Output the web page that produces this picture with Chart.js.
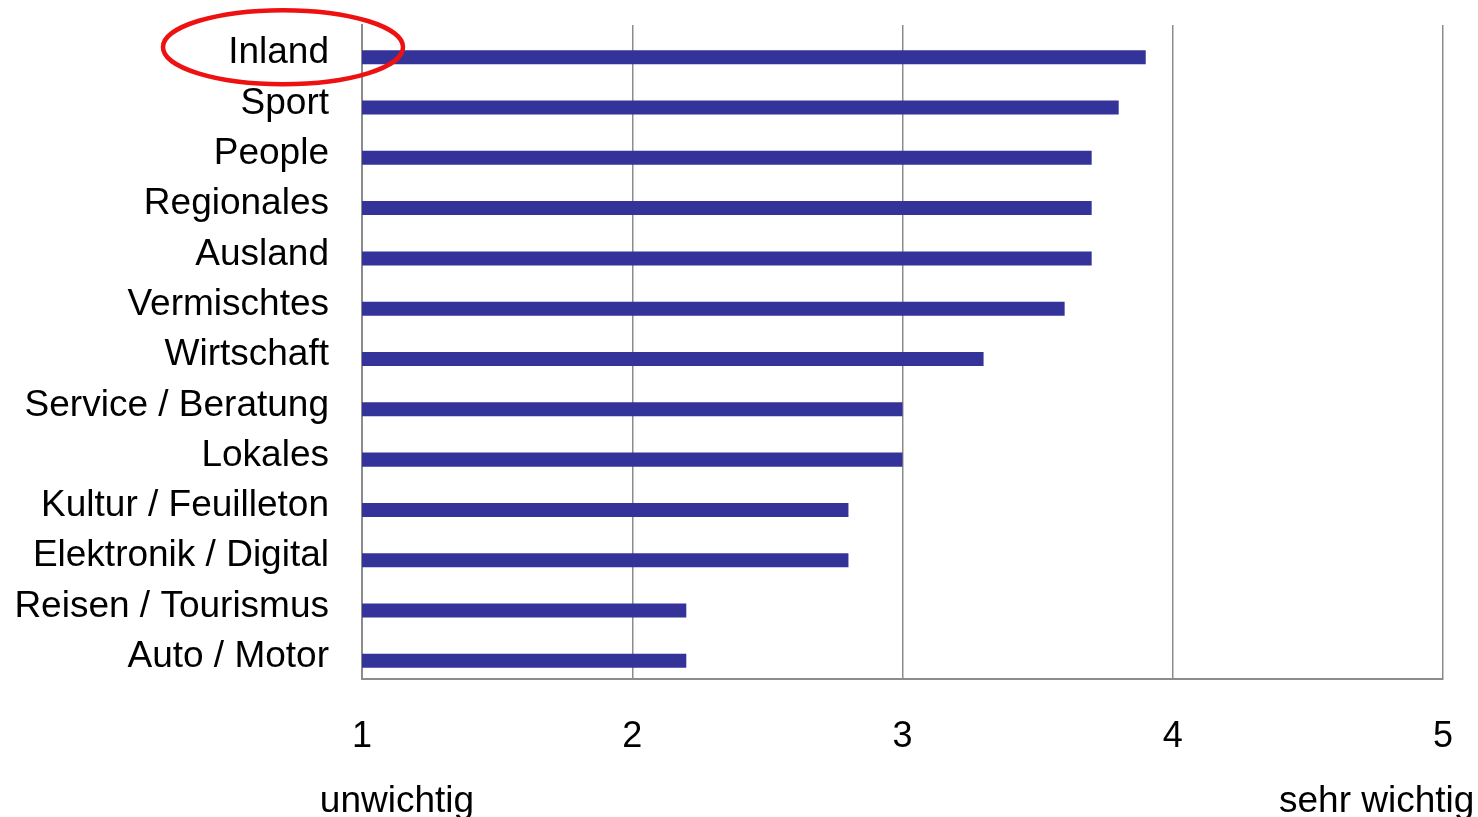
<!DOCTYPE html>
<html>
<head>
<meta charset="utf-8">
<script src="https://cdn.jsdelivr.net/npm/chart.js@4"></script>
<style>
  body { margin: 0; background: #fff; }
  #wrap { width: 1478px; height: 817px; position: relative; }
</style>
</head>
<body>
<div id="wrap"><canvas id="ressorts"></canvas></div>
<script>
const categories = ['Inland', 'Sport', 'People', 'Regionales', 'Ausland', 'Vermischtes', 'Wirtschaft',
    'Service / Beratung', 'Lokales', 'Kultur / Feuilleton', 'Elektronik / Digital', 'Reisen / Tourismus', 'Auto / Motor'];
const importance = [3.9, 3.8, 3.7, 3.7, 3.7, 3.6, 3.3, 3.0, 3.0, 2.8, 2.8, 2.2, 2.2];
// empty first series (the excel chart had one), keeps the bar in the lower half of each row
const spacer = categories.map(() => null);
const scaleMin = 1;
const scaleMax = 5;
const scaleEnds = ['unwichtig', 'sehr wichtig'];
const highlighted = 'Inland';

const FONT = 'Liberation Sans, Arial, sans-serif';
const GREY = '#8c8c8c';

// labels under the axis ends + red circle round the highlighted category
const extras = {
    id: 'extras',
    afterDraw(chart) {
        const ctx = chart.ctx;
        const x = chart.scales.x;
        const y = chart.scales.y;
        ctx.save();
        ctx.fillStyle = '#000';
        ctx.font = '37px ' + FONT;
        ctx.textBaseline = 'alphabetic';
        ctx.textAlign = 'center';
        ctx.fillText(scaleEnds[0], x.getPixelForValue(scaleMin) + 35, 812);
        ctx.textAlign = 'left';
        ctx.fillText(scaleEnds[1], x.getPixelForValue(scaleMax) - 164, 812);

        const cy = y.getPixelForValue(categories.indexOf(highlighted)) - 3;
        ctx.strokeStyle = '#ee1111';
        ctx.lineWidth = 4.5;
        ctx.beginPath();
        ctx.ellipse(x.left - 79, cy, 120, 37, 0, 0, Math.PI * 2);
        ctx.stroke();
        ctx.restore();
    }
};

document.addEventListener('DOMContentLoaded', function () {
    const ctx = document.getElementById('ressorts');

    const data = {
        labels: categories,
        datasets: [{
            label: '',
            data: spacer,
            backgroundColor: 'rgba(0,0,0,0)'
        },
            {
                label: 'Wichtigkeit',
                data: importance,
                backgroundColor: '#333399',
                borderWidth: 0
            }]
    };

    const config = {
        type: 'bar',
        data: data,
        options: {
            indexAxis: 'y',
            responsive: true,
            maintainAspectRatio: false,
            animation: false,
            devicePixelRatio: 1,
            layout: { padding: { top: 25, right: 35, left: 0, bottom: 0 } },
            datasets: { bar: { categoryPercentage: 0.557, barPercentage: 1.0 } },
            plugins: {
                legend: { display: false },
                tooltip: { enabled: false }
            },
            scales: {
                x: {
                    min: scaleMin,
                    max: scaleMax,
                    ticks: {
                        stepSize: 1,
                        color: '#000',
                        font: { family: FONT, size: 36 },
                        padding: 36
                    },
                    grid: { color: GREY, lineWidth: 1.5, drawTicks: false },
                    border: { display: true, color: GREY, width: 2 },
                    afterFit(scale) {
                        scale.height = 138;
                        scale.paddingLeft = 0;
                        scale.paddingRight = 0;
                    }
                },
                y: {
                    ticks: {
                        color: '#000',
                        font: { family: FONT, size: 37 },
                        padding: 33,
                        labelOffset: 3
                    },
                    grid: { display: false, drawTicks: false },
                    border: { display: true, color: GREY, width: 2 },
                    afterFit(scale) {
                        scale.width = 362;
                        scale.paddingTop = 0;
                        scale.paddingBottom = 0;
                    }
                }
            }
        },
        plugins: [extras]
    };

    new Chart(ctx, config);
});
</script>
</body>
</html>
